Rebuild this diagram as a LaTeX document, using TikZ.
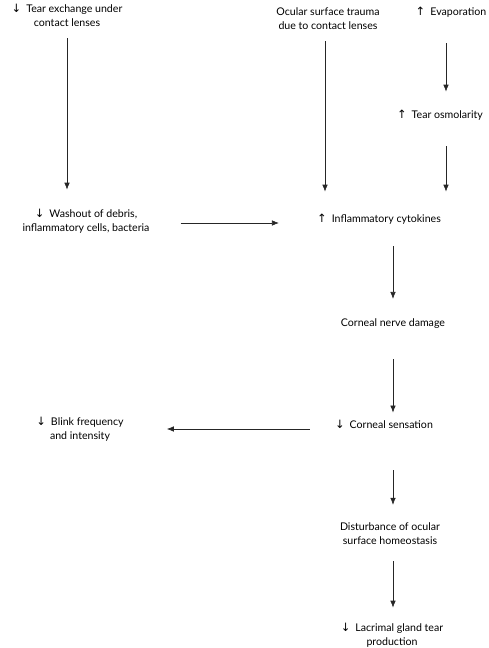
\documentclass[tikz,border=0pt]{standalone}
\usepackage{fontspec}
\setmainfont{Lato}
\newfontfamily\symfont{DejaVu Sans}
\usetikzlibrary{arrows.meta}
\newcommand{\dn}{{\symfont\fontsize{11.5}{14}\selectfont\char"2193}\hspace{5pt}}
\newcommand{\upa}{{\symfont\fontsize{11.5}{14}\selectfont\char"2191}\hspace{5pt}}
\tikzset{
  lbl/.style={inner sep=0pt, align=center, font=\fontsize{10.6}{14}\selectfont, text=black},
  arr/.style={-{Latex[length=7pt,width=5.5pt]}, line width=0.65pt, black!85}
}
\begin{document}
\begin{tikzpicture}[x=1pt,y=-1pt]
\useasboundingbox (0,0) rectangle (488,648);
\node[lbl] (tear) at (67,15) {\dn Tear exchange under\\contact lenses};
\node[lbl] (ocu) at (328,19) {Ocular surface trauma\\due to contact lenses};
\node[lbl] (evap) at (451,12) {\upa Evaporation};
\node[lbl] (osm) at (440,115) {\upa Tear osmolarity};
\node[lbl] (wash) at (86,221) {\dn Washout of debris,\\inflammatory cells, bacteria};
\node[lbl] (cyt) at (379,219) {\upa Inflammatory cytokines};
\node[lbl] (cnd) at (393,324) {Corneal nerve damage};
\node[lbl] (cs) at (384,424) {\dn Corneal sensation};
\node[lbl] (blink) at (80,429) {\dn Blink frequency\\and intensity};
\node[lbl] (dist) at (390,534) {Disturbance of ocular\\surface homeostasis};
\node[lbl] (lac) at (392,635) {\dn Lacrimal gland tear\\production};

\draw[arr, shorten <=12pt, shorten >=19pt] (tear.south) -- (tear.south |- wash.north);
\draw[arr, shorten <=11pt, shorten >=22pt] ([xshift=-3pt]ocu.south) -- ([xshift=-3pt]ocu.south |- cyt.north);
\draw[arr, shorten <=26pt, shorten >=18pt] ([xshift=6pt]osm.north |- evap.south) -- ([xshift=6pt]osm.north);
\draw[arr, shorten <=26pt, shorten >=22pt] ([xshift=6pt]osm.south) -- ([xshift=6pt]osm.south |- cyt.north);
\draw[arr, shorten <=31pt, shorten >=38pt] ([yshift=-2pt]wash.east) -- ([yshift=-2pt]wash.east -| cyt.west);
\draw[arr, shorten <=22pt, shorten >=20pt] (cnd.north |- cyt.south) -- (cnd.north);
\draw[arr, shorten <=30pt, shorten >=7pt] (cnd.south) -- (cnd.south |- cs.north);
\draw[arr, shorten <=25pt, shorten >=43pt] (cs.west |- blink.east) -- (blink.east);
\draw[arr, shorten <=42pt, shorten >=18pt] (cnd.south |- cs.south) -- (cnd.south |- dist.north);
\draw[arr, shorten <=16pt, shorten >=15pt] (cnd.south |- dist.south) -- (cnd.south |- lac.north);
\end{tikzpicture}
\end{document}
